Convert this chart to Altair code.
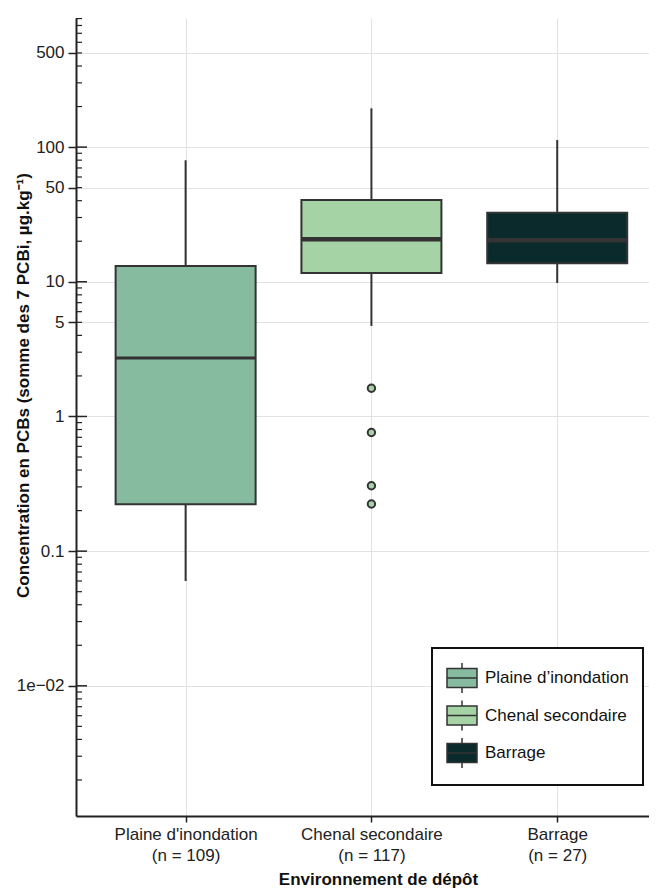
import altair as alt
import pandas as pd

# ---- data ----
categories = ["Plaine d'inondation", "Chenal secondaire", "Barrage"]
counts = [109, 117, 27]
positions = [1, 2, 3]
whisker_low = [0.060, 4.7, 9.8]
q1 = [0.223, 11.6, 13.7]
median = [2.72, 20.7, 20.3]
q3 = [13.1, 40.5, 32.6]
whisker_high = [80.0, 194.0, 113.0]
fills = ["#86BBA0", "#A6D3A6", "#0B2A2B"]

outlier_pos = [2, 2, 2, 2]
outlier_vals = [1.62, 0.76, 0.306, 0.224]

y_label_values = [500, 100, 50, 10, 5, 1, 0.1, 0.01]
decade_ticks = [0.01, 0.1, 1, 10, 100]
minor_ticks = [m * d for d in [0.001, 0.01, 0.1, 1, 10, 100] for m in range(2, 10)]

df = pd.DataFrame({
    "cat": categories, "pos": positions, "lo": whisker_low, "q1": q1,
    "med": median, "q3": q3, "hi": whisker_high,
})
out_df = pd.DataFrame({"pos": outlier_pos, "v": outlier_vals})
minor_df = pd.DataFrame({"t": minor_ticks})
decade_df = pd.DataFrame({"t": decade_ticks})

FONT = "Liberation Sans"
YTITLE = "Concentration en PCBs (somme des 7 PCBi, µg.kg⁻¹)"
XTITLE = "Environnement de dépôt"

# multi-line x labels
parts = []
for p, c, n in zip(positions, categories, counts):
    parts.append(f'datum.value == {p} ? ["{c}", "(n = {n})"]')
x_label_expr = " : ".join(parts) + ' : ""'

yscale = alt.Scale(type="log", domain=[0.00108, 909], nice=False, padding=0)
xscale = alt.Scale(domain=[0.41, 3.494], nice=False, zero=False, padding=0)

yax = alt.Axis(
    values=y_label_values,
    labelExpr="datum.value < 0.05 ? '1e\u221202' : toString(datum.value)",
    tickSize=8, tickColor="#222", tickWidth=1.5,
    domainColor="#222", domainWidth=2,
    labelFontSize=17, labelColor="#222", labelPadding=4, labelFont=FONT,
    grid=True, gridColor="#e2e2e2", gridWidth=1,
    titleFontSize=17, titleFontWeight="bold", titleColor="#111", titleFont=FONT,
    titleAngle=270, titleAlign="center", titleBaseline="alphabetic",
    titleX=-48, titleY=367,
)
xax = alt.Axis(
    values=positions, labelExpr=x_label_expr,
    tickSize=6, tickColor="#222", tickWidth=1.5,
    domainColor="#222", domainWidth=2,
    labelFontSize=17, labelColor="#222", labelPadding=4, labelLineHeight=21,
    labelFont=FONT,
    grid=True, gridColor="#e2e2e2", gridWidth=1,
    titleFontSize=17, titleFontWeight="bold", titleColor="#111", titleFont=FONT,
    titleBaseline="alphabetic", titleX=302, titleY=68.5,
)

X = alt.X("pos:Q", scale=xscale, axis=xax, title=XTITLE)

def Y(field):
    return alt.Y(field, scale=yscale, axis=yax, title=YTITLE)

legend_symbol = "M-1,-0.63H1V0.63H-1Z M-1,0H1 M0,-0.63V-1 M0,0.63V1"

whiskers = alt.Chart(df).mark_rule(color="#333", strokeWidth=2).encode(
    x=X, y=Y("lo:Q"), y2="hi:Q"
)

boxes = alt.Chart(df).mark_bar(size=140, stroke="#333", strokeWidth=2, opacity=1).encode(
    x=X, y=Y("q1:Q"), y2="q3:Q",
    fill=alt.Fill(
        "cat:N",
        scale=alt.Scale(domain=categories, range=fills),
        legend=alt.Legend(
            title=None, orient="none", legendX=356, legendY=630,
            symbolType=legend_symbol, symbolSize=900,
            symbolStrokeColor="#333", symbolStrokeWidth=1.5,
            labelFontSize=17, labelFont=FONT, labelColor="#111",
            labelOffset=7, rowPadding=1.5, padding=14,
            strokeColor="#111", fillColor="white",
            labelExpr="replace(datum.label, \"'\", '\u2019') + '\u2003'",
        ),
    ),
)

med_thin = alt.Chart(df).transform_filter(alt.datum.pos == 1).mark_tick(
    orient="horizontal", size=140, thickness=3, color="#333", opacity=1
).encode(x=X, y=Y("med:Q"))

med_thick = alt.Chart(df).transform_filter(alt.datum.pos != 1).mark_tick(
    orient="horizontal", size=140, thickness=4.5, color="#333", opacity=1
).encode(x=X, y=Y("med:Q"))

outliers = alt.Chart(out_df).mark_circle(
    size=55, fill="#A6D3A6", stroke="#333", strokeWidth=2, opacity=1
).encode(x=X, y=Y("v:Q"))

minor = alt.Chart(minor_df).mark_rule(color="#222", strokeWidth=1.2).encode(
    y=Y("t:Q"), x=alt.value(0), x2=alt.value(6)
)
decade = alt.Chart(decade_df).mark_rule(color="#222", strokeWidth=1.5).encode(
    y=Y("t:Q"), x=alt.value(0), x2=alt.value(11)
)

chart = alt.layer(whiskers, boxes, med_thin, med_thick, outliers, minor, decade).properties(
    width=573, height=798,
    padding={"left": 68, "top": 10, "right": 0, "bottom": 74},
    autosize=alt.AutoSizeParams(type="none"),
).configure(font=FONT).configure_view(stroke="transparent").configure_legend(strokeWidth=2)

chart.save("out.html", embed_options={"renderer": "svg", "actions": False})
